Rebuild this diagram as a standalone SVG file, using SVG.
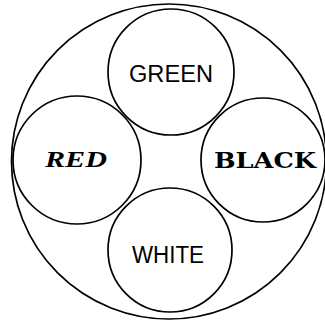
<svg xmlns="http://www.w3.org/2000/svg" width="325" height="324" viewBox="0 0 325 324">
<style>
circle{fill:none;stroke:#000;stroke-width:1.7}
.sans{font-family:"Liberation Sans",Arial,sans-serif;font-size:23px;fill:#000}
.red{font-family:"Liberation Serif","Times New Roman",serif;font-size:24px;font-style:italic;font-weight:bold;fill:#000}
.black{font-family:"DejaVu Serif","Liberation Serif",serif;font-size:22px;font-weight:bold;fill:#000}
</style>
<rect width="325" height="324" fill="#fff"/>
<g id="outer"><circle cx="169" cy="161.5" r="157.5"/></g>
<g id="green"><circle cx="171" cy="72" r="63"/><text class="sans" x="171" y="82" text-anchor="middle" textLength="84" lengthAdjust="spacingAndGlyphs">GREEN</text></g>
<g id="red"><circle cx="77" cy="160" r="64"/><text class="red" x="76" y="167" text-anchor="middle" textLength="62" lengthAdjust="spacingAndGlyphs">RED</text></g>
<g id="black"><circle cx="263" cy="160" r="62"/><text class="black" x="265" y="168" text-anchor="middle" textLength="102" lengthAdjust="spacingAndGlyphs">BLACK</text></g>
<g id="white"><circle cx="170" cy="250" r="62"/><text class="sans" x="168" y="263" text-anchor="middle" textLength="72" lengthAdjust="spacingAndGlyphs">WHITE</text></g>
</svg>
